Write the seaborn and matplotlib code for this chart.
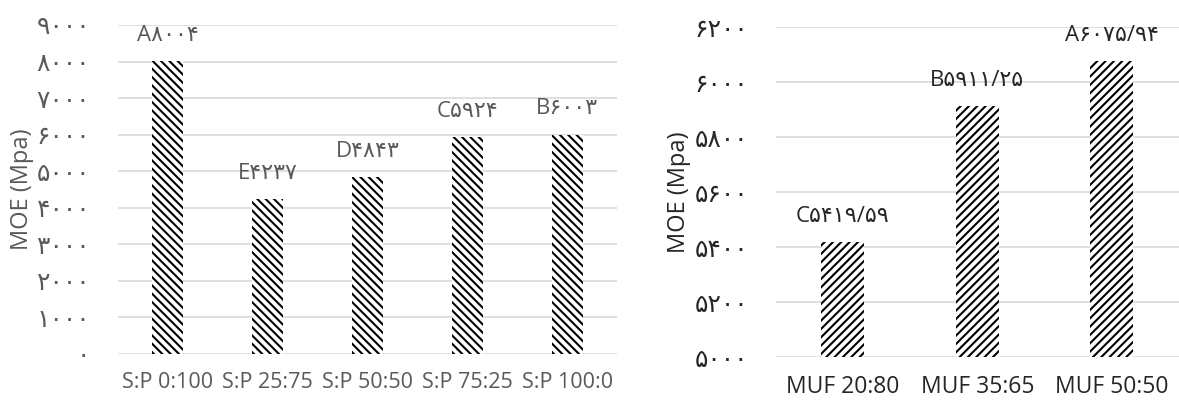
import matplotlib
matplotlib.use("Agg")
import matplotlib.pyplot as plt
import seaborn as sns
import pandas as pd

# data
sp_groups = ["S:P 0:100", "S:P 25:75", "S:P 50:50", "S:P 75:25", "S:P 100:0"]
sp_moe = [8004, 4237, 4843, 5924, 6003]
sp_letters = ["A", "E", "D", "C", "B"]

muf_groups = ["MUF 20:80", "MUF 35:65", "MUF 50:50"]
muf_moe = [5419.59, 5911.25, 6075.94]
muf_letters = ["C", "B", "A"]

left_ticks = [0, 1000, 2000, 3000, 4000, 5000, 6000, 7000, 8000, 9000]
right_ticks = [5000, 5200, 5400, 5600, 5800, 6000, 6200]

FA = str.maketrans("0123456789.", "۰۱۲۳۴۵۶۷۸۹/")


def fa(s):
    return str(s).translate(FA)


sns.set_style("white")
plt.rcParams["font.family"] = ["Open Sans", "DejaVu Sans"]
plt.rcParams["hatch.linewidth"] = 1.5
plt.rcParams["hatch.color"] = "black"

fig = plt.figure(figsize=(11.79, 4.03), dpi=100)
ax1 = fig.add_axes([0.100, 0.1216, 0.4235, 0.8164])
ax2 = fig.add_axes([0.658, 0.114, 0.342, 0.819])

df1 = pd.DataFrame({"group": sp_groups, "moe": sp_moe})
df2 = pd.DataFrame({"group": muf_groups, "moe": muf_moe})

sns.barplot(data=df1, x="group", y="moe", ax=ax1, color="white", width=0.31,
            edgecolor="black", linewidth=0, errorbar=None)
sns.barplot(data=df2, x="group", y="moe", ax=ax2, color="white", width=0.32,
            edgecolor="black", linewidth=0, errorbar=None)

for p in ax1.patches:
    p.set_hatch("\\\\\\\\")
for p in ax2.patches:
    p.set_hatch("////")

gray = "#595959"
dark = "#262626"
digits = ["DejaVu Sans"]
mixed = ["Open Sans", "DejaVu Sans"]

# left panel
ax1.set_ylim(0, 9000)
ax1.set_xlim(-0.5, 4.5)
ax1.set_yticks(left_ticks)
ax1.set_yticklabels([fa(t) for t in left_ticks], color=gray, fontsize=18,
                    family=digits)
ax1.tick_params(axis="y", length=0, pad=20)
ax1.tick_params(axis="x", length=0, pad=13, labelsize=15.5, labelcolor=gray)
ax1.set_xlabel("")
ax1.set_ylabel("MOE (Mpa)", color=gray, fontsize=17, labelpad=2)
for i, (v, l) in enumerate(zip(sp_moe, sp_letters)):
    ax1.text(i, v + 420, l + fa(v), ha="center", va="bottom", fontsize=16,
             color=gray, family=mixed)

# right panel
ax2.set_ylim(5000, 6200)
ax2.set_xlim(-0.5, 2.5)
ax2.set_yticks(right_ticks)
ax2.set_yticklabels([fa(t) for t in right_ticks], color=dark, fontsize=18,
                    family=digits)
ax2.tick_params(axis="y", length=0, pad=20)
ax2.tick_params(axis="x", length=0, pad=13, labelsize=16.5, labelcolor=dark)
ax2.set_xlabel("")
ax2.set_ylabel("MOE (Mpa)", color=dark, fontsize=17, labelpad=2)
for i, (v, l) in enumerate(zip(muf_moe, muf_letters)):
    ax2.text(i, v + 55, l + fa(f"{v:.2f}"), ha="center", va="bottom", fontsize=16,
             color=dark, family=mixed)

for ax in (ax1, ax2):
    ax.yaxis.grid(True, color="#d9d9d9", linewidth=1.2)
    ax.set_axisbelow(True)
    for s in ax.spines.values():
        s.set_visible(False)

fig.savefig("out.png", dpi=100)
